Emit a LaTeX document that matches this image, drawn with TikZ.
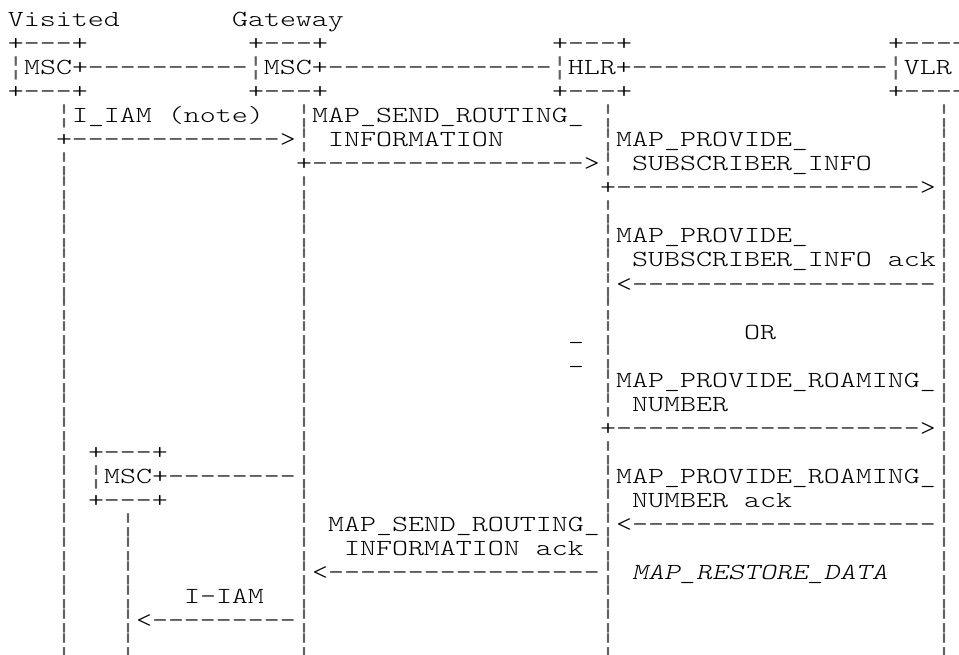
\documentclass[tikz,border=0pt]{standalone}
\usepackage{fontspec}
\setmonofont{lmmonolt10-regular.otf}[ItalicFont=lmmonolt10-oblique.otf, FakeStretch=1.325]
\newfontfamily\bbfont{Liberation Mono}[FakeStretch=1.0667]
\newcommand\bb{{\fontsize{25}{24}\selectfont\bbfont\color{black!62}¦}}
\ExplSyntaxOn
\cs_new:Npn \dsh #1 {\prg_replicate:nn{#1}{-\kern0pt}}
\ExplSyntaxOff
\tikzset{txt/.style={font=\fontsize{23}{24}\selectfont\ttfamily, inner sep=0pt, outer sep=0pt, anchor=base west, text=black}}
\newcommand\T[3]{\node[txt] (n#2c#1) at ({8+16*#1},{27+24*#2}) {#3};}
\newcommand\Lf[2]{\node[txt] (l#2c#1) at ({8+16*#1},{27+24*#2}) {\bb};}
\begin{document}
\begin{tikzpicture}[x=1pt,y=-1pt]
\useasboundingbox (0,0) rectangle (959,655);
\clip (0,0) rectangle (959,655);
% header
\T{0}{0}{Visited}
\T{14}{0}{Gateway}
\T{0}{1}{+\dsh3+}
\T{15}{1}{+\dsh3+}
\T{34}{1}{+\dsh3+}
\T{55}{1}{+\dsh3+}
\T{0}{2}{\bb MSC+\dsh{10}\bb MSC+\dsh{14}\bb HLR+\dsh{16}\bb VLR}
\T{0}{3}{+\dsh3+}
\T{15}{3}{+\dsh3+}
\T{34}{3}{+\dsh3+}
\T{55}{3}{+\dsh3+}
% lifelines
\foreach \r in {4,...,26}{\ifnum\r=5 \else\Lf{3}{\r}\fi}
\foreach \r in {4,...,26}{\ifnum\r=6 \else\Lf{18}{\r}\fi}
\foreach \r in {4,...,26}{\ifnum\r=7 \else\ifnum\r=17 \else\Lf{37}{\r}\fi\fi}
\foreach \r in {4,...,26}{\Lf{58}{\r}}
\foreach \r in {21,...,26}{\Lf{7}{\r}}
% messages
\T{4}{4}{I\_IAM (note)}
\T{19}{4}{MAP\_SEND\_ROUTING\_}
\T{3}{5}{+\dsh{13}>}
\T{20}{5}{INFORMATION}
\T{38}{5}{MAP\_PROVIDE\_}
\T{18}{6}{+\dsh{17}>}
\T{39}{6}{SUBSCRIBER\_INFO}
\T{37}{7}{+\dsh{19}>}
\T{38}{9}{MAP\_PROVIDE\_}
\T{39}{10}{SUBSCRIBER\_INFO ack}
\T{38}{11}{<\dsh{19}}
\T{35}{13}{\_}
\T{46}{13}{OR}
\T{35}{14}{\_}
\T{38}{15}{MAP\_PROVIDE\_ROAMING\_}
\T{39}{16}{NUMBER}
\T{37}{17}{+\dsh{19}>}
\T{5}{18}{+\dsh3+}
\T{5}{19}{\bb MSC+\dsh8}
\T{38}{19}{MAP\_PROVIDE\_ROAMING\_}
\T{5}{20}{+\dsh3+}
\T{39}{20}{NUMBER ack}
\T{20}{21}{MAP\_SEND\_ROUTING\_}
\T{38}{21}{<\dsh{19}}
\T{21}{22}{INFORMATION ack}
\T{19}{23}{<\dsh{17}}
\T{39}{23}{\itshape MAP\_RESTORE\_DATA}
\T{11}{24}{I-IAM}
\T{8}{25}{<\dsh9}
\end{tikzpicture}
\end{document}
